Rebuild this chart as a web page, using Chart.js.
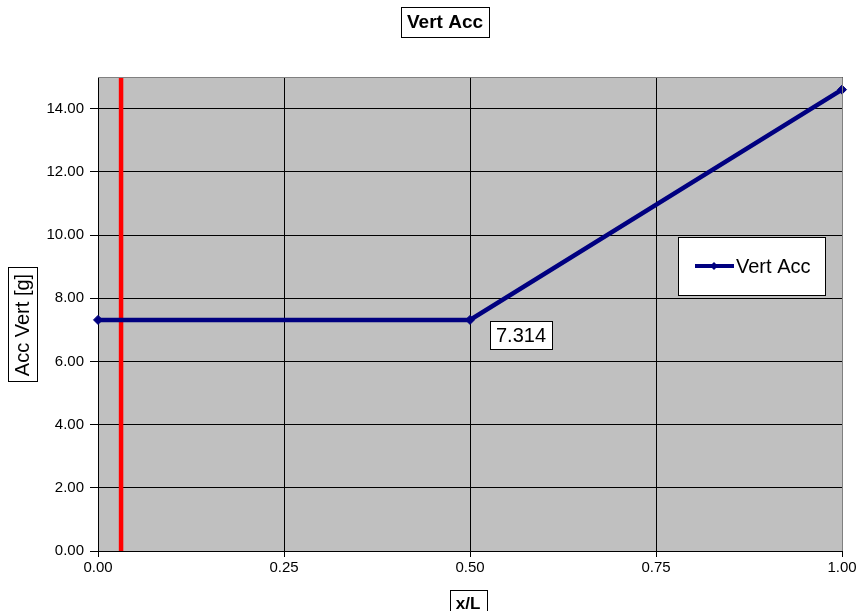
<!DOCTYPE html>
<html>
<head>
<meta charset="utf-8">
<script src="https://cdn.jsdelivr.net/npm/chart.js@4/dist/chart.umd.min.js"></script>
<style>
  html, body { margin: 0; padding: 0; background: #fff; }
  #wrap { width: 859px; height: 611px; position: relative; }
</style>
</head>
<body>
<div id="wrap"><canvas id="c" width="859" height="611"></canvas></div>
<script>
// Vertical acceleration along the hull, x/L stations and values [g]
const stations = [0.0, 0.5, 1.0];
const vertAcc = [7.314, 7.314, 14.6];
const markerStation = 0.031;      // red reference line position
const labelledIndex = 1;          // point carrying a value label
const chartTitle = 'Vert Acc';
const xTitle = 'x/L';
const yTitle = 'Acc Vert [g]';
const seriesName = 'Vert Acc';

const FONT = '"Liberation Sans", Arial, sans-serif';

function boxedText(ctx, text, cx, cy, font, rotate, h) {
  ctx.save();
  ctx.translate(cx, cy);
  if (rotate) ctx.rotate(-Math.PI / 2);
  ctx.font = font;
  const w = ctx.measureText(text).width;
  const padX = 6;
  ctx.fillStyle = '#fff';
  ctx.fillRect(-w / 2 - padX, -h / 2, w + 2 * padX, h);
  ctx.strokeStyle = '#000';
  ctx.lineWidth = 1;
  ctx.strokeRect(Math.round(-w / 2 - padX) + 0.5, Math.round(-h / 2) + 0.5, Math.round(w + 2 * padX), h);
  ctx.fillStyle = '#000';
  ctx.textAlign = 'center';
  ctx.textBaseline = 'middle';
  ctx.fillText(text, 0, 1);
  ctx.restore();
}

const decorations = {
  id: 'decorations',
  afterDraw(chart) {
    const ctx = chart.ctx;
    const a = chart.chartArea;

    // lighter top and right frame of the plot area
    ctx.save();
    ctx.strokeStyle = '#808080';
    ctx.lineWidth = 1;
    ctx.beginPath();
    ctx.moveTo(a.left, a.top + 0.5);
    ctx.lineTo(a.right + 0.5, a.top + 0.5);
    ctx.lineTo(a.right + 0.5, a.bottom);
    ctx.stroke();
    ctx.restore();

    // titles
    boxedText(ctx, chartTitle, 445, 22, 'bold 19px ' + FONT, false, 30);
    boxedText(ctx, xTitle, 468, 603, 'bold 17px ' + FONT, false, 26);
    boxedText(ctx, yTitle, 22, 325, '20px ' + FONT, true, 29);

    // value label next to the chosen point
    const pt = chart.getDatasetMeta(0).data[labelledIndex];
    const txt = vertAcc[labelledIndex].toFixed(3);
    ctx.save();
    ctx.font = '20px ' + FONT;
    const tw = ctx.measureText(txt).width;
    const bx = Math.round(pt.x + 20), by = Math.round(pt.y + 1);
    ctx.fillStyle = '#fff';
    ctx.fillRect(bx, by, tw + 12, 28);
    ctx.strokeStyle = '#000';
    ctx.lineWidth = 1;
    ctx.strokeRect(bx + 0.5, by + 0.5, Math.round(tw + 12), 28);
    ctx.fillStyle = '#000';
    ctx.textBaseline = 'middle';
    ctx.fillText(txt, bx + 6, by + 15);
    ctx.restore();

    // legend box
    ctx.save();
    const lx = 678, ly = 237, lw = 147, lh = 58;
    ctx.fillStyle = '#fff';
    ctx.fillRect(lx, ly, lw, lh);
    ctx.strokeStyle = '#000';
    ctx.lineWidth = 1;
    ctx.strokeRect(lx + 0.5, ly + 0.5, lw, lh);
    const my = ly + 29;
    ctx.strokeStyle = '#000080';
    ctx.lineWidth = 4;
    ctx.beginPath();
    ctx.moveTo(695, my);
    ctx.lineTo(734, my);
    ctx.stroke();
    ctx.fillStyle = '#000080';
    ctx.beginPath();
    ctx.moveTo(714, my - 4); ctx.lineTo(718, my); ctx.lineTo(714, my + 4); ctx.lineTo(710, my);
    ctx.closePath();
    ctx.fill();
    ctx.fillStyle = '#000';
    ctx.font = '20px ' + FONT;
    ctx.textBaseline = 'middle';
    ctx.fillText(seriesName, 736, my + 1);
    ctx.restore();
  }
};

const plotBackground = {
  id: 'plotBackground',
  beforeDraw(chart) {
    const { ctx, chartArea: a } = chart;
    ctx.save();
    ctx.fillStyle = '#fff';
    ctx.fillRect(0, 0, chart.width, chart.height);
    ctx.fillStyle = '#C0C0C0';
    ctx.fillRect(a.left, a.top, a.right - a.left, a.bottom - a.top);
    ctx.restore();
  }
};

new Chart(document.getElementById('c'), {
  type: 'line',
  data: {
    datasets: [
      {
        label: seriesName,
        data: stations.map((x, i) => ({ x, y: vertAcc[i] })),
        borderColor: '#000080',
        backgroundColor: '#000080',
        borderWidth: 4.5,
        pointStyle: 'rectRot',
        pointRadius: 4.5,
        pointBorderWidth: 1,
        tension: 0,
        clip: false
      },
      {
        label: 'marker',
        data: [{ x: markerStation, y: 0 }, { x: markerStation, y: 15 }],
        borderColor: '#FF0000',
        borderWidth: 4.5,
        pointRadius: 0,
        tension: 0
      }
    ]
  },
  options: {
    responsive: false,
    animation: false,
    devicePixelRatio: 1,
    layout: { padding: { top: 77, right: 17, left: 0, bottom: 0 } },
    plugins: {
      legend: { display: false },
      title: { display: false },
      tooltip: { enabled: false }
    },
    scales: {
      x: {
        type: 'linear',
        min: 0, max: 1,
        afterFit(s) { s.height = 60; },
        ticks: {
          stepSize: 0.25,
          color: '#000',
          font: { family: FONT, size: 15 },
          padding: 2,
          maxRotation: 0,
          callback: v => Number(v).toFixed(2)
        },
        grid: { color: '#000', lineWidth: 1, tickLength: 6, tickColor: '#000' },
        border: { color: '#000', width: 1 }
      },
      y: {
        min: 0, max: 15,
        afterFit(s) { s.width = 98; },
        afterBuildTicks(s) { s.ticks = s.ticks.filter(t => t.value <= 14); },
        ticks: {
          stepSize: 2,
          color: '#000',
          font: { family: FONT, size: 15 },
          padding: 6,
          callback: v => Number(v).toFixed(2)
        },
        grid: { color: '#000', lineWidth: 1, tickLength: 8, tickColor: '#000' },
        border: { color: '#000', width: 1 }
      }
    }
  },
  plugins: [plotBackground, decorations]
});
</script>
</body>
</html>
